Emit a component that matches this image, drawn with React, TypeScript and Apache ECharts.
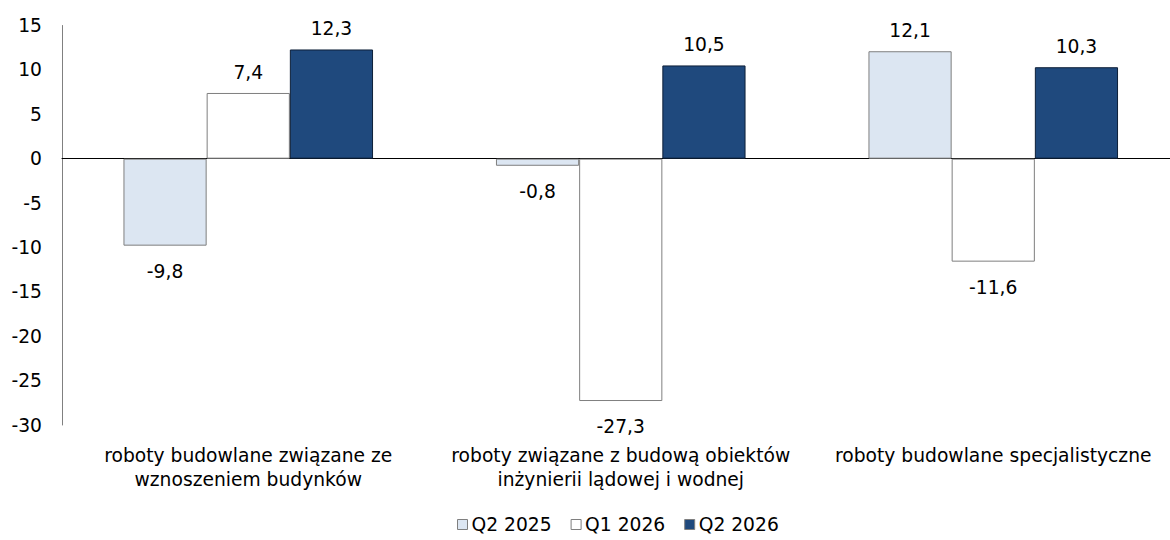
import React, { useEffect, useRef } from "react";
import * as echarts from "echarts";

const categories = [
  "roboty budowlane związane ze\nwznoszeniem budynków",
  "roboty związane z budową obiektów\ninżynierii lądowej i wodnej",
  "roboty budowlane specjalistyczne",
];
const seriesNames = ["Q2 2025", "Q1 2026", "Q2 2026"];
const q2_2025 = [-9.8, -0.8, 12.1];
const q1_2026 = [7.4, -27.3, -11.6];
const q2_2026 = [12.3, 10.5, 10.3];
const yTicks = { min: -30, max: 15, interval: 5 };

const FONT = "DejaVu Sans";
const FS = 18.7;

export default function App() {
  const ref = useRef<HTMLDivElement>(null);
  useEffect(() => {
    if (!ref.current) return;
    const chart = echarts.init(ref.current, undefined, { renderer: "svg" });
    const fmt = (p: any) => String(p.value).replace(".", ",");
    const styles = [
      { color: "#DCE6F2", borderColor: "#7F7F7F" },
      { color: "#FFFFFF", borderColor: "#7F7F7F" },
      { color: "#1F497D", borderColor: "#0D1F38" },
    ];
    const datas = [q2_2025, q1_2026, q2_2026];
    chart.setOption({
      animation: false,
      textStyle: { fontFamily: FONT },
      grid: {
        left: 62,
        width: 1117.5,
        top: 25.5,
        bottom: 115,
        containLabel: false,
        outerBoundsMode: "none",
      },
      legend: {
        top: 510,
        left: 452,
        itemWidth: 10,
        itemHeight: 10,
        itemGap: 19,
        icon: "rect",
        textStyle: { fontFamily: FONT, fontSize: FS, color: "#000", padding: [0, 0, 0, -1] },
        data: seriesNames.map((n, i) => ({
          name: n,
          itemStyle: { color: styles[i].color, borderColor: "#7F7F7F", borderWidth: 1 },
        })),
      },
      xAxis: {
        type: "category",
        data: categories,
        axisLine: { onZero: true, lineStyle: { color: "#000", width: 1 } },
        axisTick: { show: false },
        axisLabel: {
          fontFamily: FONT,
          fontSize: FS,
          color: "#000",
          lineHeight: 24,
          interval: 0,
          margin: 18,
          align: "center",
        },
        position: "bottom",
      },
      yAxis: {
        type: "value",
        min: yTicks.min,
        max: yTicks.max,
        interval: yTicks.interval,
        splitLine: { show: false },
        axisLine: { show: true, lineStyle: { color: "#808080" } },
        axisTick: { show: false },
        axisLabel: { fontFamily: FONT, fontSize: FS, color: "#000", margin: 20 },
      },
      series: datas.map((d, i) => ({
        name: seriesNames[i],
        type: "bar",
        data: d.map((v) => ({
          value: v,
          label: { position: v >= 0 ? "top" : "bottom", distance: v >= 0 ? 11 : 16 },
        })),
        barGap: "0%",
        barCategoryGap: "33%",
        itemStyle: { color: styles[i].color, borderColor: styles[i].borderColor, borderWidth: 1 },
        label: {
          show: true,
          formatter: fmt,
          fontFamily: FONT,
          fontSize: FS,
          color: "#000",
        },
      })),
    });
    return () => chart.dispose();
  }, []);
  return <div ref={ref} style={{ width: 1170, height: 540, position: "absolute", left: 0, top: 0 }} />;
}
